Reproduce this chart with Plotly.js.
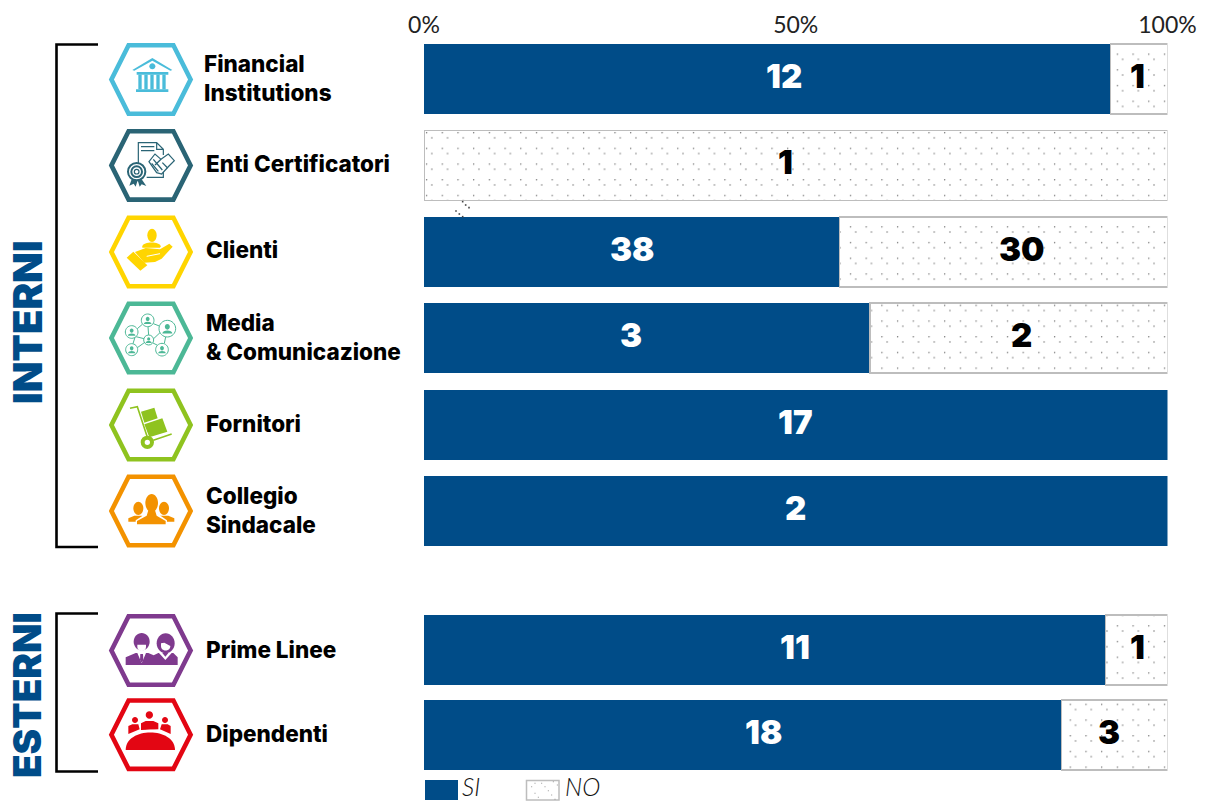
<!DOCTYPE html>
<html><head><meta charset="utf-8">
<script src="https://cdn.plot.ly/plotly-3.0.1.min.js"></script>
<style>html,body{margin:0;padding:0;background:#fff}#c{width:1205px;height:804px}</style></head>
<body><div id="c"></div>
<script>
// ---- data ----
const groupInterni = ["Financial<br>Institutions","Enti Certificatori","Clienti","Media<br>& Comunicazione","Fornitori","Collegio<br>Sindacale"];
const siInterni = [12,0,38,3,17,2];
const noInterni = [1,1,30,2,0,0];
const groupEsterni = ["Prime Linee","Dipendenti"];
const siEsterni = [11,18];
const noEsterni = [1,3];
const seriesNames = ["SI","NO"];
const tickValues = [0,50,100];
const tickLabels = ["0%","50%","100%"];
const groupTitles = ["INTERNI","ESTERNI"];
// where the reference places its count labels along the 0-100 axis
const siLabelAtInterni = [48.4,null,28,27.8,50,49.9];
const noLabelAtInterni = [95.9,48.6,80.4,80.4,null,null];
const siLabelAtEsterni = [49.9,45.7];
const noLabelAtEsterni = [95.9,92.1];

// ---- helpers ----
const W=1205,H=804, BLUE="#004C88";
const px=(x,y)=>[x/W,1-y/H];
function scalePath(d,ox,oy,s){
  return d.replace(/(-?[\d.]+)[ ,]+(-?[\d.]+)/g,(m,a,b)=>{
    const p=px(ox+a*s,oy+b*s);return p[0].toFixed(5)+" "+p[1].toFixed(5);});
}
function ell(cx,cy,rx,ry){const k=.5523;ry=ry===undefined?rx:ry;
  return `M ${cx-rx} ${cy} C ${cx-rx} ${cy-k*ry} ${cx-k*rx} ${cy-ry} ${cx} ${cy-ry} C ${cx+k*rx} ${cy-ry} ${cx+rx} ${cy-k*ry} ${cx+rx} ${cy} C ${cx+rx} ${cy+k*ry} ${cx+k*rx} ${cy+ry} ${cx} ${cy+ry} C ${cx-k*rx} ${cy+ry} ${cx-rx} ${cy+k*ry} ${cx-rx} ${cy} Z `;}
const shapes=[];
function add(d,ox,oy,fill,line,lw){
  shapes.push({type:"path",xref:"paper",yref:"paper",path:scalePath(d,ox,oy,1/3),
    fillcolor:fill||"rgba(0,0,0,0)",line:{color:line||"rgba(0,0,0,0)",width:lw||0}});
}
function hexagon(cy,color){
  const d=`M 111.4 ${cy} L 128.6 ${cy-34.2} L 173.4 ${cy-34.2} L 190.6 ${cy} L 173.4 ${cy+34.2} L 128.6 ${cy+34.2} Z`;
  shapes.push({type:"path",xref:"paper",yref:"paper",path:scalePath(d,0,0,1),fillcolor:"rgba(0,0,0,0)",line:{color:color,width:4.6}});
}
function box(x0,y0,x1,y1,fill,line,lw){
  const a=px(x0,y0),b=px(x1,y1);
  shapes.push({type:"rect",xref:"paper",yref:"paper",x0:a[0],y0:a[1],x1:b[0],y1:b[1],fillcolor:fill,line:{color:line||fill,width:lw||0}});
}
function bracket(top,bottom){
  const d=`M 98 ${top} L 56.5 ${top} L 56.5 ${bottom} L 98 ${bottom}`;
  shapes.push({type:"path",xref:"paper",yref:"paper",path:scalePath(d,0,0,1),line:{color:"#000",width:2.6},fillcolor:"rgba(0,0,0,0)"});
}
bracket(44.5,547);bracket(613.5,771.5);

const C=["#4ABCDA","#2A6475","#FFD500","#4CB896","#8FC31F","#F39200","#7F3A8E","#E30613"];
[79.5,165.4,252,338,425,511,650.5,734.7].forEach((cy,i)=>hexagon(cy,C[i]));

// bank
let c=C[0],oy=40;
add("M 82 90 L 142 54 L 202 90 L 196 92 L 142 62 L 88 92 Z",105,oy,c);
add(ell(142,79,9),105,oy,c);
add("M 95 96 L 190 96 L 190 104 L 95 104 Z",105,oy,c);
[100,118,136,154,172].forEach(x=>add(`M ${x} 104 L ${x+10} 104 L ${x+10} 148 L ${x} 148 Z`,105,oy,c));
add("M 93 148 L 190 148 L 190 156 L 93 156 Z",105,oy,c);
// certificate
c=C[1];
add("M 100 378 L 100 308 L 155 308 L 175 328 L 175 345 M 155 308 L 155 328 L 175 328 M 108 320 L 148 320 M 108 332 L 148 332 M 125 412 L 175 412 L 175 395",105,40,null,c,1.2);
add(ell(95,395,26),105,40,"#fff",c,2);
add(ell(95,395,16),105,40,null,c,2);
add(ell(95,395,7),105,40,null,c,1.2);
add("M 80 418 L 73 437 L 86 431 L 92 440 L 98 421 Z M 110 418 L 124 438 L 110 433 L 104 440 L 98 421 Z",105,40,c);
add("M 132 365 L 150 342 L 168 358 L 190 342 L 208 362 L 192 378 L 170 402 L 155 398 Z",105,40,"#fff",c,1.2);
add("M 145 358 L 172 390 M 140 370 L 160 394 M 168 358 L 150 375 M 172 368 L 188 384",105,40,null,c,1.3);
// hand
c=C[2];oy=212;
add(ell(141,70,14,20),105,oy,c);
add("M 112 103 C 115 88 165 88 167 103 L 165 107 L 112 107 Z",105,oy,c);
add("M 65 137 L 85 119 L 127 160 L 106 176 Z",105,oy,c);
add("M 90 120 L 122 108 L 165 112 L 193 95 L 203 104 L 170 140 L 150 150 L 118 152 Z",105,oy,c);
add("M 125 133 L 165 125",105,oy,null,"#fff",1);
// network
c=C[3];
add("M 97 350 L 112 337 M 145 335 L 163 342 M 129 344 L 131 369 M 165 362 L 146 380 M 93 374 L 117 380 M 84 395 L 90 376 M 97 407 L 118 392 M 144 393 L 158 400 M 178 394 L 182 375",105,oy,null,c,1);
[[128,325,19],[187,350,25],[80,360,19],[131,384,15],[80,413,18],[171,413,19]].forEach(n=>{
  add(ell(n[0],n[1],n[2]),105,oy,"#fff",c,1);
  const r=n[2];
  add(ell(n[0],n[1]-r*.22,r*.3,r*.34),105,oy,c);
  add(`M ${n[0]-r*.6} ${n[1]+r*.58} C ${n[0]-r*.6} ${n[1]+r*.1} ${n[0]+r*.6} ${n[1]+r*.1} ${n[0]+r*.6} ${n[1]+r*.58} Z`,105,oy,c);
});
// cart
c=C[4];oy=385;
add("M 75 70 L 97 65 L 128 160 M 145 166 L 200 147",105,oy,null,c,1.6);
add(ell(127,172,14),105,oy,"#fff",c,4);
add("M 108 80 L 148 68 L 158 100 L 118 113 Z",105,oy,c);
add("M 118 118 L 172 100 L 187 140 L 133 157 Z",105,oy,c);
// people
c=C[5];
add(ell(100,370,15,20),105,oy,c);
add(ell(177,370,15,20),105,oy,c);
add("M 70 410 L 70 400 L 88 392 L 112 392 L 112 410 Z M 208 410 L 208 400 L 190 392 L 165 392 L 165 410 Z",105,oy,c);
add(ell(140,354,21.5,29),105,oy,"#fff");
add("M 92 421 L 92 406 L 120 388 L 160 388 L 186 406 L 186 421 Z",105,oy,"#fff");
add(ell(140,354,19,27),105,oy,c);
add("M 96 418 L 96 408 L 125 392 L 130 376 L 150 376 L 155 392 L 182 408 L 182 418 Z",105,oy,c);
// executives
c=C[6];oy=610;
add(ell(110,95,24,26),105,oy,c);
add(ell(182,100,27,30),105,oy,c);
add("M 97 104 L 123 104 L 123 112 C 122 127 98 127 97 112 Z M 168 100 L 178 98 L 196 108 C 196 126 168 126 168 108 Z",105,oy,"#fff");
add("M 62 165 L 62 142 L 92 129 L 130 129 L 146 136 L 160 129 L 205 129 L 218 142 L 218 165 Z",105,oy,c);
add("M 97 129 L 123 129 L 110 160 Z M 162 129 L 200 129 L 181 150 Z",105,oy,"#fff");
add("M 106 132 L 114 132 L 115 150 L 110 158 L 105 150 Z",105,oy,c);
add("M 172 129 L 190 129 L 181 140 Z",105,oy,c);
// table
c=C[7];
add(ell(133,315,11),105,oy,c);add(ell(90,330,9),105,oy,c);add(ell(180,330,9),105,oy,c);
add("M 108 360 L 108 340 L 122 333 L 145 333 L 160 340 L 160 358 Z M 70 372 L 70 348 L 82 343 L 100 343 L 104 358 Z M 197 372 L 197 348 L 188 343 L 170 343 L 165 358 Z",105,oy,c);
add("M 62 420 C 62 345 210 345 210 420 Z",105,oy,"#fff","#fff",3);
add("M 62 420 C 62 350 210 350 210 420 Z",105,oy,c);

// stray dots under the second bar
[[128,230],[137,240],[147,248],[108,258],[118,267],[128,275]].forEach(p=>{
  box(420+p[0]/3-.8,125+p[1]/3-.8,420+p[0]/3+.8,125+p[1]/3+.8,"#444");});

// legend
box(425,780,458,800,BLUE);
box(526.5,780.5,559,800,"#fff","#bdbdbd",1.5);
[[335,50],[345,70],[355,82],[365,40],[375,50],[385,62],[395,75],[405,88],[400,35],[412,45],[345,40]].forEach(p=>{
  box(420+p[0]/3-.5,770+p[1]/3-.5,420+p[0]/3+.5,770+p[1]/3+.5,"#999");});

// ---- traces ----
const pattern={shape:".",fgcolor:"#6a6a6a",bgcolor:"#fff",size:15.7,solidity:0.02,fillmode:"replace"};
function bars(name,cats,vals,ya,isNo,w){
  return {type:"bar",orientation:"h",name:name,y:cats,x:vals,xaxis:"x",yaxis:ya,showlegend:false,hoverinfo:"x+y",width:w,
    marker:isNo?{color:"#fff",pattern:pattern,line:{color:"#bdbdbd",width:vals.map(v=>v?1.5:0)}}:{color:BLUE,line:{width:0}}};
}
const traces=[
  bars(seriesNames[0],groupInterni,siInterni,"y",false,0.81),
  bars(seriesNames[1],groupInterni,noInterni,"y",true,0.81),
  bars(seriesNames[0],groupEsterni,siEsterni,"y2",false,0.8235),
  bars(seriesNames[1],groupEsterni,noEsterni,"y2",true,0.8235)
];

// ---- text ----
const annotations=[];
const NUM="Inter, Lato, sans-serif";
function countLabels(cats,vals,at,ya,color){
  vals.forEach((v,i)=>{ if(!v) return;
    annotations.push({xref:"x",yref:ya,x:at[i],y:cats[i],text:String(v),showarrow:false,yshift:3,
      font:{family:NUM,size:33,weight:900,color:color}});
  });
}
countLabels(groupInterni,siInterni,siLabelAtInterni,"y","#fff");
countLabels(groupInterni,noInterni,noLabelAtInterni,"y","#000");
countLabels(groupEsterni,siEsterni,siLabelAtEsterni,"y2","#fff");
countLabels(groupEsterni,noEsterni,noLabelAtEsterni,"y2","#000");
function paperText(t,x,y,o){
  const p=px(x,y);
  annotations.push(Object.assign({xref:"paper",yref:"paper",x:p[0],y:p[1],text:t,showarrow:false,xanchor:"left",yanchor:"middle",align:"left",
    font:{family:NUM,size:22.5,weight:800,color:"#000"}},o||{}));
}
const labelY=[78,164,250,337,423,510];
groupInterni.forEach((t,i)=>paperText(t,i===0?202:204,labelY[i]));
groupEsterni.forEach((t,i)=>paperText(t,204,[649,733][i]));
paperText(groupTitles[0],27,322,{textangle:-90,xanchor:"center",font:{family:NUM,size:40,weight:900,color:BLUE}});
paperText(groupTitles[1],27,695,{textangle:-90,xanchor:"center",font:{family:NUM,size:38.5,weight:900,color:BLUE}});
const legFont={family:"Lato, sans-serif",size:24.5,weight:300,style:"italic",color:"#111"};
paperText(seriesNames[0],460,786.5,{font:legFont});
paperText(seriesNames[1],563,786.5,{font:legFont});

// ---- layout ----
const layout={
  width:W,height:H,autosize:false,margin:{l:0,r:0,t:0,b:0},paper_bgcolor:"#fff",plot_bgcolor:"#fff",
  barmode:"stack",barnorm:"percent",showlegend:false,
  xaxis:{domain:[424/W,1167.5/W],range:[0,100],side:"top",anchor:"free",position:1-38/H,tickmode:"array",tickvals:tickValues,ticktext:tickLabels,
    showgrid:false,zeroline:false,showline:false,ticks:"",tickfont:{family:"Lato, sans-serif",size:23,weight:400,color:"#222"}},
  yaxis:{domain:[1-554.2/H,1-35.8/H],autorange:"reversed",type:"category",visible:false,anchor:"x"},
  yaxis2:{domain:[1-777.5/H,1-607.5/H],autorange:"reversed",type:"category",visible:false,anchor:"x"},
  bargap:0.19,shapes:shapes,annotations:annotations
};
Plotly.newPlot("c",traces,layout,{displayModeBar:false,staticPlot:true}).then(()=>{
  // the reference's hatch has three dots per tile along each diagonal
  document.querySelectorAll("#c pattern").forEach(p=>{
    const s=parseFloat(p.getAttribute("width"));
    const dots=p.querySelectorAll("circle");
    if(dots.length<1) return;
    const third=dots[0].cloneNode();
    p.appendChild(third);
    [...p.querySelectorAll("circle")].forEach((d,k)=>{
      d.setAttribute("cx",s*(k+.5)/3);d.setAttribute("cy",s*(k+.5)/3);d.setAttribute("r",0.7);
    });
  });
});
</script></body></html>
